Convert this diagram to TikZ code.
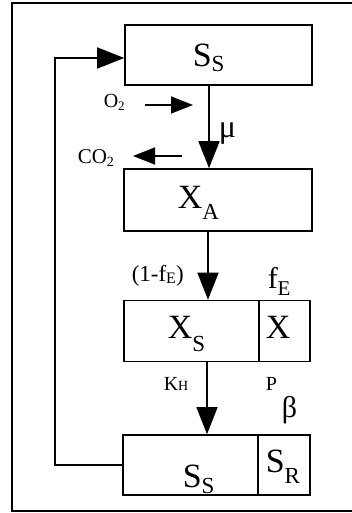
\documentclass[tikz,border=0pt]{standalone}
\usepackage{fontspec}
\setmainfont{Liberation Serif}
\usetikzlibrary{arrows.meta}
\newcommand\fsz[1]{\fontsize{#1}{#1}\selectfont}
\newcommand\lowsub[3]{\raisebox{-#1}{\fsz{#2}#3}}
\begin{document}
\begin{tikzpicture}[x=1pt,y=-1pt,line width=1.5pt,
  box/.style={draw,line width=1.6pt,inner sep=0pt,minimum width=#1},
  lbl/.style={inner sep=0pt,anchor=base west},
  big/.style={lbl,font=\fsz{34}},
  arr/.style={-{Triangle[width=21pt,length=27pt]}},
  sarr/.style={-{Triangle[width=17pt,length=22pt]}}]
\useasboundingbox (0,0) rectangle (352,513);
% outer frame (open at right)
\draw[line width=1.6pt] (352,3) -- (12,3) -- (12,511) -- (352,511);
% boxes
\node[box=187pt,minimum height=60pt] (b1) at (218.5,55) {};
\node[box=188pt,minimum height=62pt] (b2) at (218,200) {};
\node[box=186pt,minimum height=61pt] (b3) at (217,331) {};
\node[box=187pt,minimum height=60pt] (b4) at (216.5,465) {};
\coordinate (d3) at (259,0);
\coordinate (d4) at (258,0);
\draw[line width=1.6pt] (b3.north -| d3) -- (b3.south -| d3);
\draw[line width=1.6pt] (b4.north -| d4) -- (b4.south -| d4);
% box texts
\node[big] (t1) at (192,67) {S\lowsub{5pt}{23}{S}};
\node[big] (t2) at (177,208) {X\lowsub{11pt}{23}{A}};
\node[big] (t3) at (167,338) {X\lowsub{13pt}{23}{S}};
\node[big] (t3b) at (265,338) {X};
\node[big] (t4) at (182,487) {S\lowsub{6pt}{23}{S}};
\node[big] (t4b) at (265,472) {S\lowsub{11pt}{23}{R}};
% main vertical arrows
\coordinate (m1) at (209,0);
\coordinate (m2) at (208,0);
\coordinate (m3) at (207,0);
\draw[arr] (b1.south -| m1) -- (b2.north -| m1);
\draw[arr] (b2.south -| m2) -- (b3.north -| m2);
\draw[arr] (b3.south -| m3) -- (b4.north -| m3);
% feedback loop
\coordinate (fb) at (55,260);
\draw[arr] (b4.west) -| (fb) |- ([yshift=-3pt]b1.west);
% O2 and CO2 arrows
\coordinate (o2s) at (145,105);
\coordinate (o2e) at (193,105);
\draw[sarr] (o2s) -- (o2e);
\coordinate (co2s) at (182,156);
\coordinate (co2e) at (133,156);
\draw[sarr] (co2s) -- (co2e);
% labels
\node[lbl,font=\fsz{20}] (lo2) at (103,108) {O\lowsub{3pt}{13}{2}};
\node[lbl,font=\fsz{21}] (lco2) at (77,163) {CO\lowsub{3pt}{14}{2}};
\node[inner sep=0pt,font=\fsz{32}] (lmu) at (227.5,133.5) {μ};
\node[lbl,font=\fsz{23}] (lfe1) at (131,281) {(1-f\lowsub{2pt}{16}{E})};
\node[lbl,font=\fsz{30}] (lfe) at (267,288) {f\lowsub{7pt}{21}{E}};
\node[lbl,font=\fsz{20}] (lkh) at (163,390) {K\lowsub{0pt}{14}{H}};
\node[lbl,font=\fsz{20}] (lp) at (265,390) {P};
\node[inner sep=0pt,font=\fsz{30}] (lb) at (289.5,410) {β};
\end{tikzpicture}
\end{document}
